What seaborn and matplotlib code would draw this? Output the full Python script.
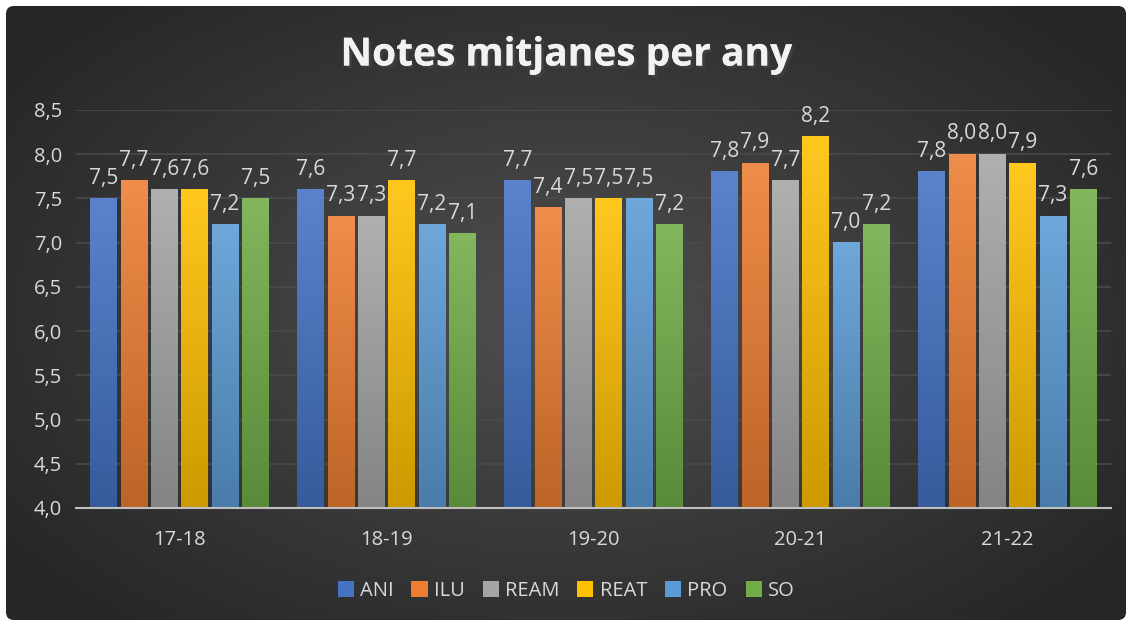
import matplotlib
matplotlib.use("Agg")
import matplotlib.pyplot as plt
import matplotlib.colors as mcolors
import matplotlib.patheffects as pe
from matplotlib.patches import FancyBboxPatch
import seaborn as sns
import numpy as np
import pandas as pd

cursos = ["17-18", "18-19", "19-20", "20-21", "21-22"]
assignatures = ["ANI", "ILU", "REAM", "REAT", "PRO", "SO"]
ani = [7.5, 7.6, 7.7, 7.8, 7.8]
ilu = [7.7, 7.3, 7.4, 7.9, 8.0]
ream = [7.6, 7.3, 7.5, 7.7, 8.0]
reat = [7.6, 7.7, 7.5, 8.2, 7.9]
pro = [7.2, 7.2, 7.5, 7.0, 7.3]
so = [7.5, 7.1, 7.2, 7.2, 7.6]

colors = ["#4472C4", "#ED7D31", "#A5A5A5", "#FFC000", "#5B9BD5", "#70AD47"]

series = [ani, ilu, ream, reat, pro, so]
df = pd.DataFrame({
    "curs": [c for _ in assignatures for c in cursos],
    "assignatura": [a for a in assignatures for _ in cursos],
    "nota": [v for s in series for v in s],
})

sns.set_style("dark")
plt.rcParams["font.family"] = ["Open Sans", "DejaVu Sans"]
txt = "#D9D9D9"
ymin, ymax = 4.0, 8.5

fig = plt.figure(figsize=(11.32, 6.26), dpi=100)
fig.patch.set_facecolor("white")

# fons del gràfic amb degradat radial i cantonades arrodonides
bg = fig.add_axes([0, 0, 1, 1])
bg.set_xlim(0, 1132)
bg.set_ylim(626, 0)
bg.axis("off")
yy, xx = np.mgrid[0:626, 0:1132]
dist = np.sqrt(((xx - 566) / 700) ** 2 + ((yy - 313) / 420) ** 2)
grad = np.clip(dist, 0, 1)
cmap_bg = mcolors.LinearSegmentedColormap.from_list("bg", ["#4f4f4f", "#262626"])
im = bg.imshow(grad, cmap=cmap_bg, extent=(0, 1132, 626, 0), aspect="auto")
box = FancyBboxPatch((6, 6), 1120, 614, boxstyle="round,pad=0,rounding_size=8",
                     transform=bg.transData, facecolor="none", edgecolor="none")
bg.add_patch(box)
im.set_clip_path(box)

ax = fig.add_axes([76 / 1132, 1 - 508 / 626, (1111 - 76) / 1132, (508 - 110) / 626])
ax.patch.set_alpha(0)

sns.barplot(data=df, x="curs", y="nota", hue="assignatura", palette=colors,
            width=0.88, gap=0.13, ax=ax, legend=True, saturation=1, linewidth=0)

ax.set_ylim(ymin, ymax)
ticks = np.arange(ymin, ymax + 0.01, 0.5)
ax.set_yticks(ticks)
ax.set_yticklabels([f"{t:.1f}".replace(".", ",") for t in ticks])
ax.grid(axis="y", color="#4a4a4a", linewidth=1.2)
ax.grid(axis="x", visible=False)
ax.set_axisbelow(True)
for s in ["top", "right", "left"]:
    ax.spines[s].set_visible(False)
ax.spines["bottom"].set_color("#BFBFBF")
ax.spines["bottom"].set_linewidth(1.5)
ax.spines["bottom"].set_zorder(5)
ax.tick_params(axis="both", length=0, colors=txt, labelsize=14.5)
ax.tick_params(axis="x", pad=16)
ax.tick_params(axis="y", pad=10)
ax.set_xlabel("")
ax.set_ylabel("")

# degradat vertical a cada barra
for cont, col in zip(ax.containers, colors):
    base = np.array(mcolors.to_rgb(col))
    light = np.clip(base + (1 - base) * 0.12, 0, 1)
    dark = base * 0.8
    cm = mcolors.LinearSegmentedColormap.from_list("g", [dark, light])
    for p in cont.patches:
        x0, w, top = p.get_x(), p.get_width(), p.get_y() + p.get_height()
        g = np.linspace(0, 1, 100).reshape(-1, 1)
        ax.imshow(g, cmap=cm, extent=(x0, x0 + w, ymin, top), origin="lower",
                  aspect="auto", zorder=p.get_zorder() + 0.1)
    labels = [f"{v:.1f}".replace(".", ",") for v in cont.datavalues]
    ax.bar_label(cont, labels=labels, padding=7, color=txt, fontsize=15)
ax.set_xlim(-0.5, 4.5)
ax.set_ylim(ymin, ymax)

handles, names = ax.get_legend_handles_labels()
for h in handles:
    h.set_edgecolor("none")
leg = ax.legend(handles, names, loc="center", ncol=6, frameon=False,
                fontsize=14.5, handlelength=0.8, handleheight=0.8,
                handletextpad=0.3, columnspacing=0.9, labelcolor=txt)
leg.set_bbox_to_anchor((0.5, 1 - 591 / 626), transform=fig.transFigure)

fig.text(0.5, 1 - 55 / 626, "Notes mitjanes per any", ha="center", va="center",
         color="#F2F2F2", fontsize=28, fontweight="bold",
         path_effects=[pe.withSimplePatchShadow(offset=(2, -2), alpha=0.5), pe.Normal()])

fig.savefig("out.png", dpi=100)
